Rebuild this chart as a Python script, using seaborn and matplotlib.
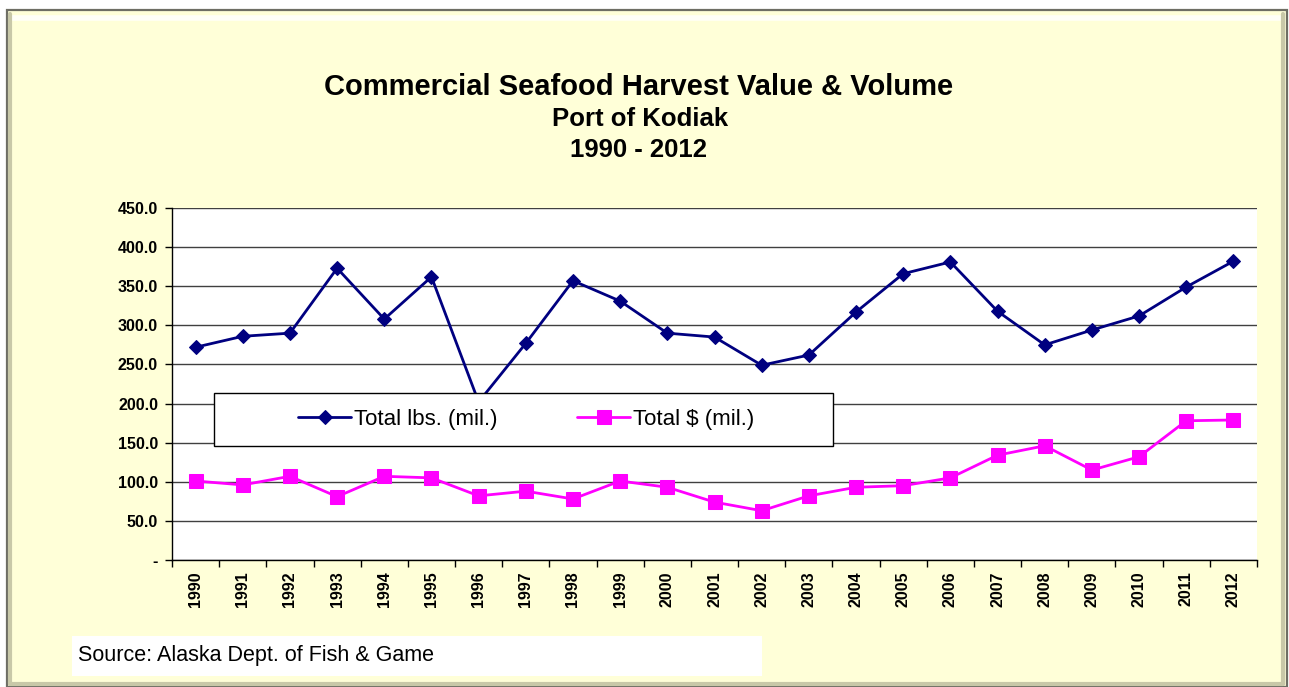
import matplotlib
matplotlib.use("Agg")
import matplotlib.pyplot as plt
from matplotlib.patches import Rectangle
from matplotlib.lines import Line2D
from matplotlib.ticker import FixedLocator, FuncFormatter
import seaborn as sns
import pandas as pd

sns.set_style("white")
plt.rcParams['font.family'] = ['Liberation Sans', 'DejaVu Sans']
plt.rcParams['text.color'] = 'black'
plt.rcParams['xtick.color'] = 'black'
plt.rcParams['ytick.color'] = 'black'

# ---- data ----
years = [str(y) for y in range(1990, 2013)]
total_lbs = [272, 286, 290, 373, 308, 362, 202, 277, 357, 331, 290, 285,
             249, 262, 317, 366, 381, 318, 275, 294, 312, 349, 382]
total_usd = [101, 96, 107, 81, 107, 105, 82, 88, 78, 101, 93, 74,
             63, 82, 93, 95, 105, 134, 146, 115, 132, 178, 179]
y_ticks = [0, 50, 100, 150, 200, 250, 300, 350, 400, 450]

df = pd.DataFrame({"Year": years, "lbs": total_lbs, "usd": total_usd})

W, H = 1289, 687
fig = plt.figure(figsize=(W / 100, H / 100), dpi=100)
fig.patch.set_facecolor("white")

def fx(px):
    return px / W

def fy(py):
    return 1 - py / H

# yellow chart frame with a light bevel
fig.patches.append(Rectangle((fx(7), fy(687)), fx(1280), 677 / H, transform=fig.transFigure,
                             facecolor="#FFFFD8", edgecolor="#6E6E64", linewidth=1.6, zorder=0))
fig.lines.append(Line2D([fx(12), fx(1280)], [fy(18), fy(18)], transform=fig.transFigure,
                        color="white", linewidth=4, alpha=0.8, zorder=0.5))
for xs, ys in [([1283, 1283], [14, 684]), ([10, 10], [14, 684]), ([10, 1283], [684, 684])]:
    fig.lines.append(Line2D([fx(v) for v in xs], [fy(v) for v in ys], transform=fig.transFigure,
                            color="#C8C8A8", linewidth=3, zorder=0.5))

ax = fig.add_axes([fx(172), fy(560), fx(1257 - 172), (560 - 208) / H])
ax.set_zorder(2)
ax.set_facecolor("white")

sns.lineplot(data=df, x="Year", y="lbs", ax=ax, color="#000080", linewidth=2,
             marker="D", markersize=7.5, markeredgecolor="#000080", sort=False, label="Total lbs. (mil.)")
sns.lineplot(data=df, x="Year", y="usd", ax=ax, color="#FF00FF", linewidth=2,
             marker="s", markersize=10.5, markeredgecolor="#FF00FF", sort=False, label="Total $ (mil.)")
ax.get_legend().remove()

ax.set_xlim(-0.5, len(years) - 0.5)
ax.set_ylim(0, 450)
ax.set_xlabel("")
ax.set_ylabel("")

# y axis
ax.set_yticks(y_ticks)
ax.yaxis.set_major_formatter(FuncFormatter(lambda v, p: "-" if v == 0 else f"{v:.1f}"))
ax.yaxis.grid(True, color="#404040", linewidth=1)
for gl in ax.get_ygridlines():
    if gl.get_ydata()[0] in (0, 450):
        gl.set_visible(False)

# x axis: ticks at category boundaries
ax.set_xticks(range(len(years)))
ax.set_xticklabels(years, rotation=90)
ax.xaxis.set_minor_locator(FixedLocator([i - 0.5 for i in range(len(years) + 1)]))
ax.tick_params(axis="x", which="major", length=0, pad=8)
ax.tick_params(axis="x", which="minor", length=5, width=1, color="black", direction="out", bottom=True)
ax.tick_params(axis="y", which="major", length=5, width=1, color="black", direction="out", left=True, pad=5)
for lab in ax.get_xticklabels() + ax.get_yticklabels():
    lab.set_fontweight("bold")
    lab.set_fontsize(11.5)

for side in ["top", "right"]:
    ax.spines[side].set_visible(False)
for side in ["left", "bottom"]:
    ax.spines[side].set_color("black")
    ax.spines[side].set_linewidth(1)

# titles
fig.text(fx(639), fy(87), "Commercial Seafood Harvest Value & Volume", ha="center", va="center",
         fontsize=21, fontweight="bold")
fig.text(fx(640), fy(119), "Port of Kodiak", ha="center", va="center", fontsize=18.5, fontweight="bold")
fig.text(fx(639), fy(150), "1990 - 2012", ha="center", va="center", fontsize=18.5, fontweight="bold")

# legend box on top of the plot
fig.patches.append(Rectangle((fx(214), fy(446)), fx(833 - 214), (446 - 393) / H, transform=fig.transFigure,
                             facecolor="white", edgecolor="black", linewidth=1, zorder=3))
handles, labels = ax.get_legend_handles_labels()
fig.legend(handles, labels, loc="center", bbox_to_anchor=(fx(526), fy(419)), ncol=2, frameon=False,
           fontsize=16, handlelength=2.4, handletextpad=0.1, columnspacing=3.6)

# source box
fig.patches.append(Rectangle((fx(72), fy(676)), fx(762 - 72), 40 / H, transform=fig.transFigure,
                             facecolor="white", edgecolor="none", zorder=1))
fig.text(fx(78), fy(656), "Source: Alaska Dept. of Fish & Game", ha="left", va="center", fontsize=15.5)

fig.savefig("out.png", dpi=100)
